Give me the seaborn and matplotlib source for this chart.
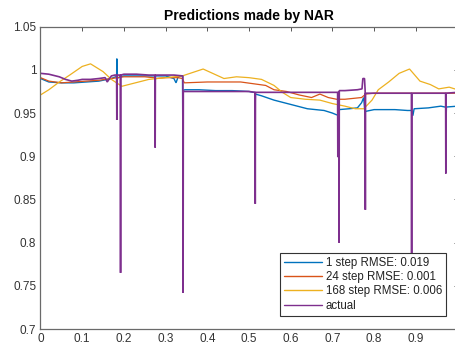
import numpy as np
import pandas as pd
import matplotlib
matplotlib.use("Agg")
import matplotlib.pyplot as plt
import seaborn as sns

# ---------------- data ----------------
x_1step = [0.0, 0.02, 0.05, 0.08, 0.11, 0.14, 0.17, 0.18, 0.1825, 0.183, 0.1835, 0.19, 0.20, 0.25, 0.27,
           0.2745, 0.275, 0.2755, 0.30, 0.32, 0.325, 0.33, 0.3405, 0.341, 0.3415, 0.346, 0.38, 0.42, 0.46,
           0.50, 0.51, 0.5145, 0.515, 0.5155, 0.53, 0.56, 0.60, 0.64, 0.68, 0.70, 0.71, 0.7145, 0.715, 0.7155,
           0.74, 0.76, 0.77, 0.775, 0.778, 0.78, 0.80, 0.85, 0.88, 0.89, 0.893, 0.896, 0.93, 0.96, 0.97,
           0.9725, 0.973, 0.9735, 1.0]
y_1step = [0.990, 0.986, 0.985, 0.985, 0.986, 0.987, 0.990, 0.992, 0.992, 1.013, 0.990, 0.992, 0.993, 0.993, 0.993,
           0.993, 0.985, 0.993, 0.993, 0.990, 0.985, 0.992, 0.993, 0.946, 0.976, 0.977, 0.977, 0.976, 0.976,
           0.975, 0.974, 0.974, 0.962, 0.972, 0.970, 0.965, 0.960, 0.955, 0.953, 0.950, 0.948, 0.948, 0.944, 0.954,
           0.955, 0.956, 0.962, 0.968, 0.950, 0.952, 0.954, 0.954, 0.953, 0.953, 0.947, 0.955, 0.956, 0.958, 0.957,
           0.957, 0.948, 0.957, 0.958]

x_24step = [0.0, 0.02, 0.05, 0.08, 0.11, 0.14, 0.17, 0.20, 0.25, 0.27, 0.2745, 0.275, 0.2755, 0.30, 0.33,
            0.34, 0.345, 0.40, 0.45, 0.48, 0.51, 0.54, 0.56, 0.59, 0.62, 0.65, 0.67, 0.69, 0.71,
            0.73, 0.75, 0.77, 0.78, 0.80, 0.85, 0.90, 0.95, 1.0]
y_24step = [0.991, 0.987, 0.985, 0.986, 0.987, 0.988, 0.990, 0.992, 0.992, 0.991, 0.991, 0.974, 0.990, 0.991, 0.991,
            0.990, 0.985, 0.986, 0.986, 0.986, 0.984, 0.982, 0.977, 0.975, 0.971, 0.968, 0.972, 0.968, 0.966,
            0.966, 0.967, 0.968, 0.972, 0.973, 0.973, 0.973, 0.973, 0.973]

x_168step = [0.0, 0.02, 0.045, 0.07, 0.10, 0.12, 0.15, 0.17, 0.195, 0.26, 0.34, 0.39, 0.44, 0.47,
             0.50, 0.53, 0.56, 0.58, 0.60, 0.635, 0.67, 0.70, 0.73, 0.755, 0.775, 0.795, 0.81,
             0.835, 0.86, 0.885, 0.91, 0.935, 0.955, 0.98, 1.0]
y_168step = [0.971, 0.977, 0.986, 0.994, 1.004, 1.007, 0.998, 0.989, 0.981, 0.989, 0.993, 1.001, 0.990, 0.992,
             0.991, 0.989, 0.982, 0.974, 0.968, 0.966, 0.965, 0.961, 0.958, 0.955, 0.955, 0.965, 0.977,
             0.986, 0.996, 1.001, 0.987, 0.983, 0.978, 0.980, 0.977]

x_actual = [0.0, 0.02, 0.045, 0.06, 0.075, 0.09, 0.10, 0.12, 0.14, 0.155, 0.16, 0.17, 0.178, 0.1825, 0.183, 0.1835,
            0.1915, 0.192, 0.1925, 0.20, 0.23, 0.26, 0.2745, 0.275, 0.2755, 0.30, 0.32, 0.3415,
            0.342, 0.3425, 0.38, 0.42, 0.46, 0.50, 0.5145, 0.515, 0.5155, 0.55, 0.60, 0.65,
            0.70, 0.7125, 0.713, 0.7135, 0.7155, 0.716, 0.7165, 0.73, 0.76, 0.771, 0.773, 0.777, 0.7785,
            0.779, 0.7795, 0.785, 0.82, 0.86, 0.8895, 0.890, 0.8905, 0.92, 0.95, 0.9715, 0.972,
            0.9725, 1.0]
y_actual = [0.996, 0.995, 0.992, 0.989, 0.987, 0.988, 0.989, 0.989, 0.990, 0.991, 0.986, 0.993, 0.994, 0.994, 0.942, 0.994,
            0.994, 0.765, 0.994, 0.995, 0.995, 0.994, 0.994, 0.910, 0.994, 0.994, 0.994, 0.993,
            0.742, 0.975, 0.975, 0.975, 0.975, 0.975, 0.974, 0.845, 0.974, 0.974, 0.974, 0.974,
            0.974, 0.974, 0.899, 0.974, 0.974, 0.800, 0.976, 0.976, 0.977, 0.978, 0.990, 0.990, 0.976,
            0.838, 0.973, 0.973, 0.973, 0.973, 0.973, 0.785, 0.973, 0.973, 0.973, 0.973, 0.880,
            0.973, 0.974]

labels = ["1 step RMSE: 0.019", "24 step RMSE: 0.001", "168 step RMSE: 0.006", "actual"]
x_ticks = [0, 0.1, 0.2, 0.3, 0.4, 0.5, 0.6, 0.7, 0.8, 0.9, 1.0]
x_tick_labels = ["0", "0.1", "0.2", "0.3", "0.4", "0.5", "0.6", "0.7", "0.8", "0.9", "1"]
y_ticks = [0.7, 0.75, 0.8, 0.85, 0.9, 0.95, 1.0, 1.05]
y_tick_labels = ["0.7", "0.75", "0.8", "0.85", "0.9", "0.95", "1", "1.05"]

# ---------------- style ----------------
sns.set_theme(style="white")
plt.rcParams["font.family"] = ["Liberation Sans", "DejaVu Sans"]

colors = ["#0072BD", "#D95319", "#EDB120", "#7E2F8E"]
widths = [1.0, 0.9, 0.9, 1.2]

fig = plt.figure(figsize=(4.56, 3.46), dpi=100)
ax = fig.add_axes([40.5 / 456, 17.0 / 346, 417.0 / 456, 302.3 / 346])

series = [(x_1step, y_1step), (x_24step, y_24step), (x_168step, y_168step), (x_actual, y_actual)]
for (xs, ys), lab, c, w in zip(series, labels, colors, widths):
    df = pd.DataFrame({"x": xs, "y": ys})
    sns.lineplot(data=df, x="x", y="y", ax=ax, color=c, linewidth=w, label=lab,
                 estimator=None, sort=False)
for ln in ax.get_lines():
    ln.set_solid_joinstyle("bevel")

ax.set_xlim(0, 1)
ax.set_ylim(0.7, 1.05)
ax.set_xticks(x_ticks)
ax.set_xticklabels(x_tick_labels)
ax.set_yticks(y_ticks)
ax.set_yticklabels(y_tick_labels)
ax.set_xlabel("")
ax.set_ylabel("")
ax.tick_params(direction="in", length=3, width=0.7, colors="#555555", labelcolor="#333333",
               labelsize=8.5, top=True, right=True, pad=3)
for s in ax.spines.values():
    s.set_color("#6a6a6a")
    s.set_linewidth(0.9)

ax.set_title("Predictions made by NAR", fontsize=10, fontweight="bold", color="black", pad=5)

leg = ax.legend(loc="lower right", bbox_to_anchor=(446 / 456, 30.3 / 346),
                bbox_transform=fig.transFigure, borderaxespad=0, fontsize=8.3,
                handlelength=3.3, handletextpad=0.3, labelspacing=0.2,
                borderpad=0.35, fancybox=False, framealpha=1, edgecolor="#333333")
leg.get_frame().set_linewidth(0.8)
for t in leg.get_texts():
    t.set_color("#222222")
for lh in leg.get_lines():
    lh.set_linewidth(1.0)

fig.savefig("out.png", dpi=100)
